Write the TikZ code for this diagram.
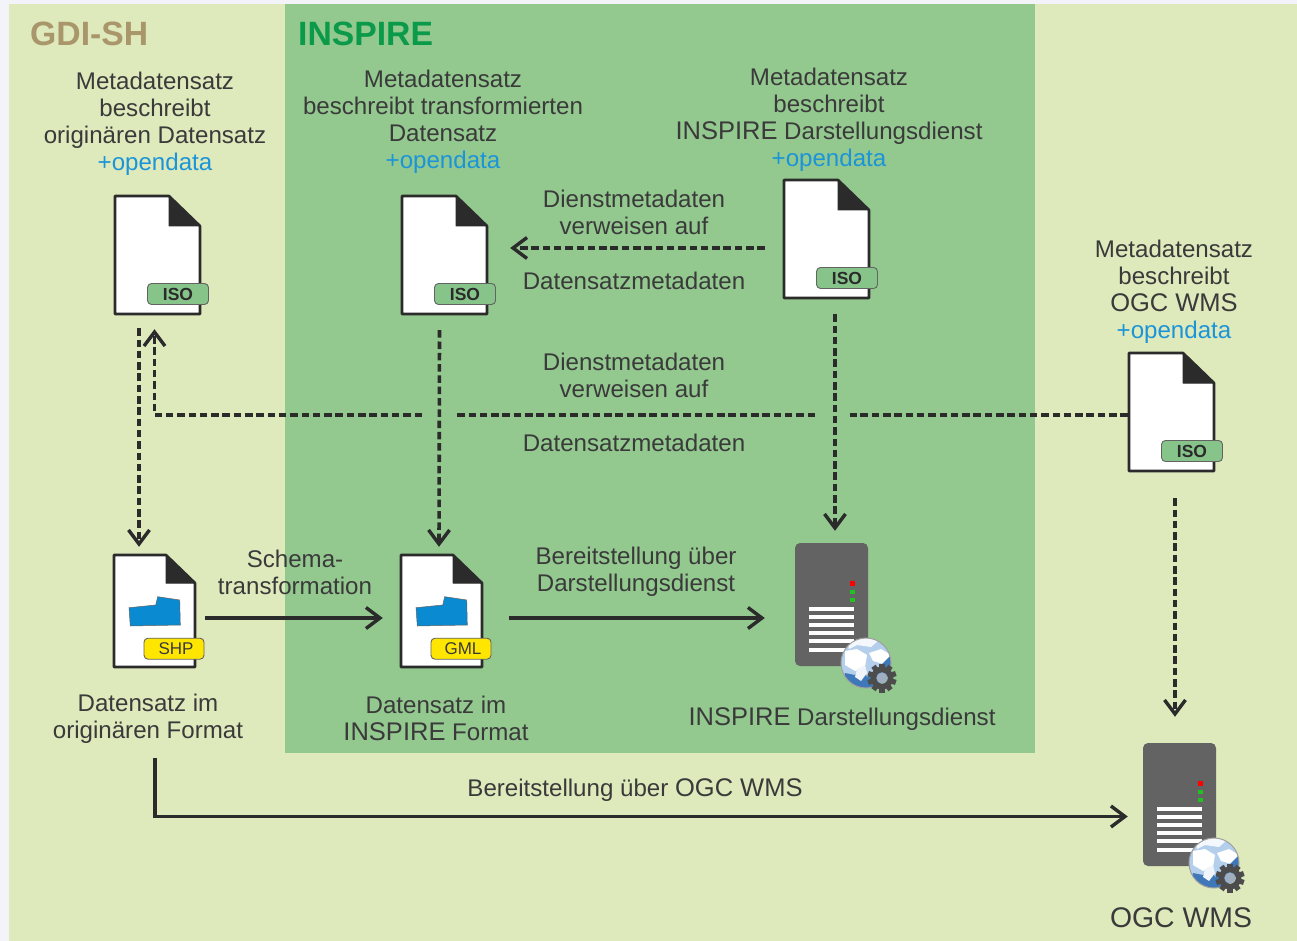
\documentclass[tikz,border=0pt]{standalone}
\usepackage{fontspec}
\setmainfont{Liberation Sans}
\usetikzlibrary{arrows.meta,calc}
\definecolor{pagebg}{HTML}{F2F4FA}
\definecolor{lightgreen}{HTML}{DEE9BC}
\definecolor{midgreen}{HTML}{93C88F}
\definecolor{inkdark}{HTML}{2B2B2B}
\definecolor{txt}{HTML}{3A3A3A}
\definecolor{odblue}{HTML}{1B95D8}
\definecolor{isogreen}{HTML}{86C48A}
\definecolor{badgeyellow}{HTML}{FFE600}
\definecolor{folderblue}{HTML}{0A8AD0}
\definecolor{srvgray}{HTML}{636363}
\definecolor{gdititle}{HTML}{A9966A}
\definecolor{insptitle}{HTML}{0B9A4A}
\definecolor{globelight}{HTML}{B4CFEC}
\definecolor{globedark}{HTML}{3F78B8}
\definecolor{ledgreen}{HTML}{22C022}
\newcommand{\capsword}[1]{{\fontsize{25.5}{27}\selectfont #1}}
\tikzset{
  x=1pt,y=-1pt,
  lbl/.style={text=txt,font=\fontsize{24.1}{27}\selectfont,align=center,inner sep=0pt,anchor=center},
  grouptitle/.style={font=\fontsize{33.7}{36}\selectfont\bfseries,inner sep=0pt,anchor=west},
  docline/.style={draw=inkdark,line width=2.6pt,fill=white,line join=round},
  docfold/.style={fill=inkdark,draw=inkdark,line width=1pt,line join=round},
  docanchor/.style={inner sep=0pt,minimum width=87pt,minimum height=120pt},
  isobadge/.style={draw=srvgray,line width=0.9pt,fill=isogreen,rounded corners=4pt,minimum width=61pt,minimum height=21pt,inner sep=0pt,text=inkdark,font=\fontsize{17.5}{18}\selectfont\bfseries},
  fmtbadge/.style={draw=srvgray,line width=0.9pt,fill=badgeyellow,rounded corners=4pt,minimum width=60pt,minimum height=21pt,inner sep=0pt,text=txt,font=\fontsize{17}{18}\selectfont},
  dashconn/.style={draw=inkdark,line width=3.6pt,dash pattern=on 7.5pt off 3.8pt},
  solidconn/.style={draw=inkdark,line width=3.4pt},
  tip/.style={-{Straight Barb[length=14pt,width=21pt,line width=3.4pt]}},
}
\newcommand{\isodoc}[3]{%
  \begin{scope}[shift={(#2,#3)}]
    \draw[docline] (1,1) -- (55,1) -- (86,31) -- (86,119) -- (1,119) -- cycle;
    \fill[docfold] (55,1) -- (86,31) -- (55,31) -- cycle;
    \node[docanchor] (#1) at (43.5,60) {};
    \node[isobadge] (#1iso) at (64,99) {ISO};
  \end{scope}}
\newcommand{\datadoc}[4]{%
  \begin{scope}[shift={(#2,#3)}]
    \draw[docline] (1,1) -- (53,1) -- (82,29) -- (82,113) -- (1,113) -- cycle;
    \fill[docfold] (53,1) -- (82,29) -- (53,29) -- cycle;
    \draw[fill=folderblue,draw=srvgray,line width=0.5pt] (16,53.7) -- (42.7,51) -- (44.7,42.7) -- (66.7,46) -- (67.3,71) -- (17.3,72) -- cycle;
    \node[inner sep=0pt,minimum width=83pt,minimum height=114pt] (#1) at (41.5,57) {};
    \node[fmtbadge] (#1fmt) at (61,94.7) {\hspace{4pt}#4};
  \end{scope}}
\newcommand{\serverbox}[3]{%
  \begin{scope}[shift={(#2,#3)}]
    \node[inner sep=0pt,minimum width=73pt,minimum height=123pt,fill=srvgray,rounded corners=5pt] (#1) at (36.5,61.5) {};
    \fill[red] (55,38) rectangle (59.5,42.5);
    \fill[ledgreen] (55,46.5) rectangle (59.5,51);
    \fill[ledgreen] (55,54.5) rectangle (59.5,59);
    \foreach \k in {0,...,5}{\fill[white] (14,{64+8.1*\k}) rectangle (59,{68+8.1*\k});}
    \begin{scope}
      \clip (71,120) circle[radius=25];
      \fill[globelight] (46,95) rectangle (96,145);
      \fill[white!85!globelight] (52,97) -- (66,94) -- (84,97) -- (76,104) -- (62,102) -- (54,106) -- cycle;
      \fill[white] (50,108) -- (62,106) -- (72,112) -- (70,124) -- (60,128) -- (50,122) -- cycle;
      \fill[white] (74,110) -- (86,106) -- (96,112) -- (92,122) -- (78,118) -- cycle;
      \fill[globedark] (50,130) -- (60,132) -- (68,127) -- (72,134) -- (80,128) -- (96,112) -- (96,145) -- (46,145) -- cycle;
      \fill[white!80!globelight] (62,126) -- (70,122) -- (72,130) -- (66,138) -- (60,134) -- cycle;
    \end{scope}
    \draw[gray!75,line width=1pt] (71,120) circle[radius=25];
    \foreach \a in {0,36,...,324}{
      \fill[gray!60!black,rotate around={\a:(87,135)}] (84.4,120.5) rectangle (89.6,127);}
    \draw[gray!60!black,line width=5.6pt] (87,135) circle[radius=8.6];
    \fill[gray!40!globelight] (87,135) circle[radius=5.6];
  \end{scope}}
\begin{document}
\begin{tikzpicture}
\useasboundingbox (0,0) rectangle (1297,941);
\fill[pagebg] (0,0) rectangle (1297,941);
\node[fill=lightgreen,inner sep=0pt,minimum width=1288pt,minimum height=937pt] (gdi) at (653,472.5) {};
\node[fill=midgreen,inner sep=0pt,minimum width=750pt,minimum height=749pt] (insp) at (660,378.5) {};
\node[grouptitle,text=gdititle] (tgdi) at (30,34) {GDI-SH};
\node[grouptitle,text=insptitle] (tinsp) at (298,34) {INSPIRE};

\isodoc{docA}{114}{195}
\isodoc{docB}{401}{195}
\isodoc{docC}{783}{179}
\isodoc{docD}{1128}{352}
\datadoc{shp}{113}{554}{SHP}
\datadoc{gml}{400}{554}{GML}
\serverbox{srvI}{795}{543}
\serverbox{srvO}{1143}{743}

\node[lbl] (tA) at (155,124) {Metadatensatz\\beschreibt\\originären Datensatz\\\textcolor{odblue}{+opendata}};
\node[lbl] (tB) at (443,121.5) {Metadatensatz\\beschreibt transformierten\\Datensatz\\\textcolor{odblue}{+opendata}};
\node[lbl] (tC) at (829,120) {Metadatensatz\\beschreibt\\\capsword{INSPIRE} Darstellungsdienst\\\textcolor{odblue}{+opendata}};
\node[lbl] (tD) at (1174,291.5) {Metadatensatz\\beschreibt\\\capsword{OGC WMS}\\\textcolor{odblue}{+opendata}};
\node[lbl] (v1) at (634,212.5) {Dienstmetadaten\\verweisen auf};
\node[lbl] (d1) at (634,281) {Datensatzmetadaten};
\node[lbl] (v2) at (634,375.5) {Dienstmetadaten\\verweisen auf};
\node[lbl] (d2) at (634,443) {Datensatzmetadaten};
\node[lbl] (schema) at (295,572.5) {Schema-\\transformation};
\node[lbl] (ber1) at (636,572) {Bereitstellung über\\Darstellungsdienst};
\node[lbl] (ber2) at (635,790) {Bereitstellung über \capsword{OGC WMS}};
\node[lbl] (tshp) at (148,718.5) {Datensatz im\\originären Format};
\node[lbl] (tgml) at (436,718) {Datensatz im\\\capsword{INSPIRE} Format};
\node[lbl] (tsrvI) at (842,719) {\capsword{INSPIRE} Darstellungsdienst};
\node[lbl,font=\fontsize{28.4}{30}\selectfont] (tsrvO) at (1181,918) {OGC WMS};

% dashed connectors
\draw[dashconn,tip] ([xshift=-18.5pt,yshift=-13pt]docA.south) -- ([xshift=-15.5pt,yshift=7pt]shp.north);
\draw[dashconn,tip] ([xshift=-5pt,yshift=-15pt]docB.south) -- ([xshift=-2.5pt,yshift=7pt]gml.north);
\draw[dashconn,tip] ([xshift=8.5pt,yshift=-15pt]docC.south) -- ([xshift=3.5pt,yshift=12pt]srvI.north);
\draw[dashconn,tip] ([xshift=3.5pt,yshift=-26pt]docD.south) -- ([xshift=-4.5pt,yshift=26pt]srvO.north);
\draw[dashconn,tip] ([xshift=-18pt,yshift=-9pt]docC.west) -- ([xshift=22pt,yshift=7pt]docB.east);
% long dashed connector, broken where the vertical connectors pass
\coordinate (hE) at ([yshift=-3pt]docD.west);
\coordinate (hTop) at ([xshift=-3pt,yshift=-14pt]docA.south);
\coordinate (hCorner) at (hTop |- hE);
\draw[dashconn] (hE) -- (850,415);
\draw[dashconn] (815,415) -- (457,415);
\draw[dashconn,tip] (422,415) -- (hCorner) -- (hTop);
% solid connectors
\draw[solidconn,tip] ([xshift=9pt,yshift=-7pt]shp.east) -- ([xshift=-17pt,yshift=-7pt]gml.west);
\draw[solidconn,tip] ([xshift=26pt,yshift=-7pt]gml.east) -- ([xshift=-30pt,yshift=-13.5pt]srvI.west);
\draw[solidconn,tip] ([xshift=7pt,yshift=-14.5pt]tshp.south) |- ([xshift=-15pt,yshift=-12pt]srvO.west);
\end{tikzpicture}
\end{document}
